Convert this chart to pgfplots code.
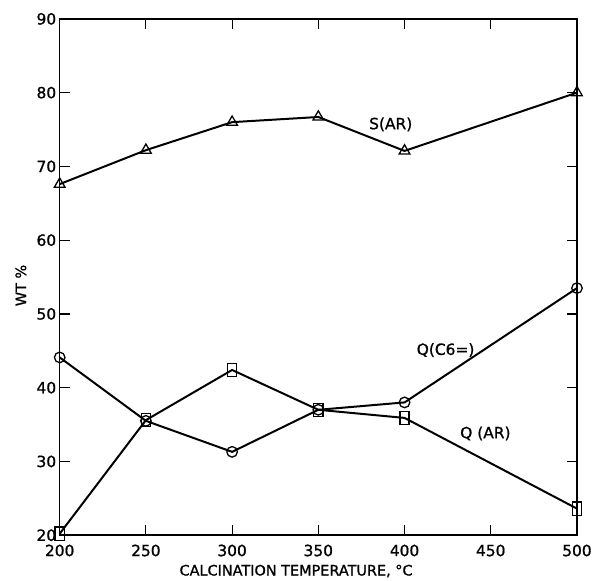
\documentclass[border=0pt]{standalone}
\usepackage{pgfplots}
\pgfplotsset{compat=1.18}
\usepackage{fontspec}
\setmainfont{DejaVu Sans}[FakeBold=1.0]
\begin{document}
\begin{tikzpicture}
\begin{axis}[
  name=ax,
  scale only axis,
  width=520pt, height=519pt,
  xmin=200, xmax=500, ymin=20, ymax=90,
  xtick={200,250,300,350,400,450,500}, ytick={20,30,40,50,60,70,80,90},
  xticklabels={200,250,300,350,400,450,500},
  yticklabels={20,30,40,50,60,70,80,90},
  major tick length=10pt,
  tick style={black, line width=1.2pt},
  axis line style={line width=1.5pt},
  tick label style={font=\fontsize{15.5}{17}\selectfont},
  xticklabel style={yshift=-6pt},
  yticklabel style={xshift=0pt},
  xlabel={CALCINATION TEMPERATURE, °C},
  ylabel={WT \%},
  xlabel style={font=\fontsize{14.5}{16}\selectfont, at={(rel axis cs:0.457,0)}, anchor=center, yshift=-36pt},
  ylabel style={font=\fontsize{14.5}{16}\selectfont, at={(rel axis cs:0,0.4836)}, anchor=center, yshift=39pt},
]
\addplot[black, line width=2pt, mark=triangle, mark size=6.2pt, mark options={fill=white, line width=1.3pt, solid}] coordinates {(200,67.6) (250,72.2) (300,76) (350,76.7) (400,72.1) (500,80)};
\addplot[black, line width=2pt, mark=o, mark size=5.3pt, mark options={fill=white, line width=1.3pt, solid}] coordinates {(200,44.1) (250,35.5) (300,31.3) (350,37.0) (400,38.0) (500,53.5)};
\addplot[black, line width=2pt, mark=square, mark size=6.6pt, mark options={fill=white, line width=1.3pt, solid, xscale=0.7}] coordinates {(200,20.2) (250,35.6) (300,42.4) (350,37.0) (400,35.9) (500,23.6)};
\node[font=\fontsize{15.5}{17}\selectfont] at (axis cs:392,75.7) {S(AR)};
\node[font=\fontsize{15.5}{17}\selectfont] at (axis cs:423.8,45.1) {Q(C6=)};
\node[font=\fontsize{15.5}{17}\selectfont] at (axis cs:446.9,33.8) {Q (AR)};
\end{axis}
\path ([yshift=19pt]ax.north) ([xshift=-60pt]ax.west) ([yshift=-43pt]ax.south) ([xshift=15pt]ax.east);
\end{tikzpicture}
\end{document}
